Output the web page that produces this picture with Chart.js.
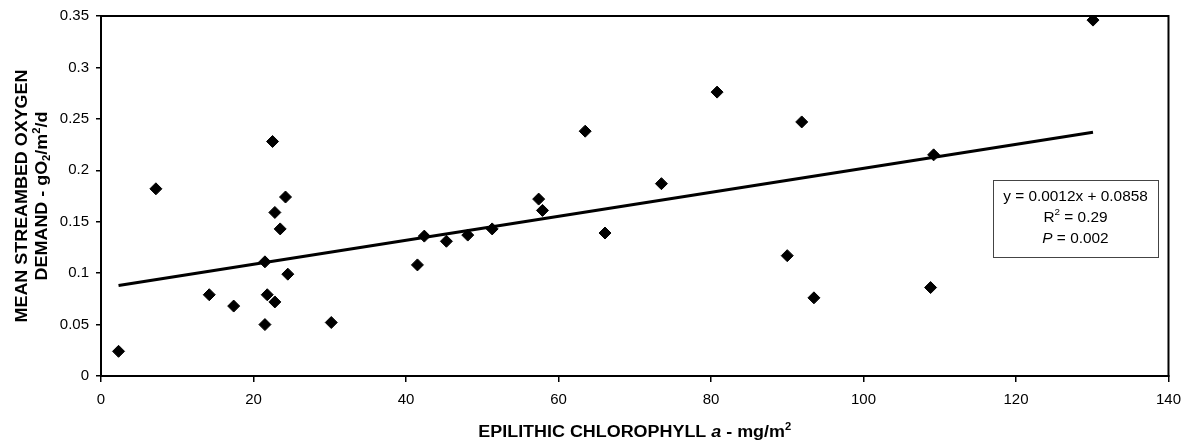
<!DOCTYPE html>
<html>
<head>
<meta charset="utf-8">
<script src="https://cdn.jsdelivr.net/npm/chart.js@4.4.1/dist/chart.umd.min.js"></script>
<style>
  html, body { margin: 0; padding: 0; background: #fff; }
  #wrap { width: 1190px; height: 447px; position: relative; }
</style>
</head>
<body>
<div id="wrap"><canvas id="chart"></canvas></div>
<script>
// Epilithic chlorophyll a (mg/m2) vs mean streambed oxygen demand (gO2/m2/d)
const chlorophyll = [2.3, 7.2, 14.2, 17.4, 21.5, 21.5, 21.8, 22.8, 22.5, 22.8, 23.5, 24.2, 24.5, 30.2,
  41.5, 42.4, 45.3, 48.1, 51.3, 57.4, 57.9, 63.5, 66.1, 73.5, 80.8, 90.0, 91.9, 93.5, 108.8, 109.2, 130.1];
const oxygenDemand = [0.024, 0.182, 0.079, 0.068, 0.050, 0.111, 0.079, 0.072, 0.228, 0.159, 0.143, 0.174, 0.099, 0.052,
  0.108, 0.136, 0.131, 0.137, 0.143, 0.172, 0.161, 0.238, 0.139, 0.187, 0.276, 0.117, 0.247, 0.076, 0.086, 0.215, 0.346];

// fitted line end points
const trendX = [2.3, 130.1];
const trendY = [0.088, 0.237];

const xTicks = [0, 20, 40, 60, 80, 100, 120, 140];
const yTickLabels = ["0", "0.05", "0.1", "0.15", "0.2", "0.25", "0.3", "0.35"];
const fitLines = [
  [{ t: "y = 0.0012x + 0.0858" }],
  [{ t: "R" }, { t: "2", sup: true }, { t: " = 0.29" }],
  [{ t: "P", it: true }, { t: " = 0.002" }],
];

const FONT = "'Liberation Sans', Arial, sans-serif";

function segFont(s, size, bold) {
  const sz = (s.sup || s.sub) ? Math.round(size * 0.62) : size;
  return (s.it ? "italic " : "") + (bold ? "bold " : "") + sz + "px " + FONT;
}

// draw mixed-style text centred on (x, y), stretched horizontally by sx
function drawRich(ctx, segs, x, y, size, bold, sx = 1) {
  let w = 0;
  segs.forEach(s => { ctx.font = segFont(s, size, bold); w += ctx.measureText(s.t).width; });
  ctx.save();
  ctx.translate(x, y);
  ctx.scale(sx, 1);
  let cx = -w / 2;
  ctx.textAlign = "left";
  ctx.textBaseline = "middle";
  segs.forEach(s => {
    ctx.font = segFont(s, size, bold);
    let dy = 0;
    if (s.sup) dy = -size * 0.38;
    if (s.sub) dy = size * 0.28;
    ctx.fillText(s.t, cx, dy);
    cx += ctx.measureText(s.t).width;
  });
  ctx.restore();
}

const decorations = {
  id: "decorations",
  afterDraw(chart) {
    const { ctx, chartArea: a } = chart;
    ctx.save();
    ctx.fillStyle = "#000";

    // plot frame
    ctx.strokeStyle = "#000";
    ctx.lineWidth = 2;
    ctx.strokeRect(a.left, a.top, a.right - a.left, a.bottom - a.top);

    // x title
    drawRich(ctx, [
      { t: "EPILITHIC CHLOROPHYLL " }, { t: "a", it: true }, { t: " - mg/m" }, { t: "2", sup: true }
    ], (a.left + a.right) / 2, 433, 16, true, 1.12);

    // y title, two lines
    const cy = (a.top + a.bottom) / 2;
    ctx.save();
    ctx.translate(23, cy);
    ctx.rotate(-Math.PI / 2);
    drawRich(ctx, [{ t: "MEAN STREAMBED OXYGEN" }], 0, 0, 16, true, 1.12);
    ctx.restore();
    ctx.save();
    ctx.translate(43, cy);
    ctx.rotate(-Math.PI / 2);
    drawRich(ctx, [
      { t: "DEMAND - gO" }, { t: "2", sub: true }, { t: "/m" }, { t: "2", sup: true }, { t: "/d" }
    ], 0, 0, 16, true, 1.12);
    ctx.restore();

    // regression box
    const bx = 993, by = 180, bw = 165, bh = 77;
    ctx.fillStyle = "#fff";
    ctx.fillRect(bx, by, bw, bh);
    ctx.strokeStyle = "#444";
    ctx.lineWidth = 1;
    ctx.strokeRect(bx + 0.5, by + 0.5, bw, bh);
    ctx.fillStyle = "#000";
    fitLines.forEach((ln, i) => drawRich(ctx, ln, bx + bw / 2, 197 + i * 21, 14, false, 1.1));

    ctx.restore();
  },
};

new Chart(document.getElementById("chart"), {
  type: "scatter",
  data: {
    datasets: [
      {
        label: "SOD",
        data: chlorophyll.map((x, i) => ({ x, y: oxygenDemand[i] })),
        pointStyle: "rectRot",
        pointRadius: 6,
        pointBackgroundColor: "#000",
        pointBorderColor: "#000",
        pointBorderWidth: 1,
        order: 1,
      },
      {
        label: "Trend",
        data: trendX.map((x, i) => ({ x, y: trendY[i] })),
        showLine: true,
        borderColor: "#000",
        borderWidth: 3,
        pointRadius: 0,
        order: 2,
      },
    ],
  },
  options: {
    responsive: true,
    maintainAspectRatio: false,
    animation: false,
    layout: { padding: { left: 0, right: 21, top: 13, bottom: 0 } },
    plugins: {
      legend: { display: false },
      tooltip: { enabled: false },
    },
    scales: {
      x: {
        type: "linear",
        min: 0,
        max: 140,
        afterBuildTicks: s => { s.ticks = xTicks.map(v => ({ value: v })); },
        afterFit: s => { s.height = 71; },
        ticks: {
          color: "#000",
          padding: 9,
          maxRotation: 0,
          font: { family: FONT, size: 15 },
        },
        grid: { display: true, drawOnChartArea: false, color: "#000", tickLength: 6, lineWidth: 1.5 },
        border: { color: "#000", width: 2 },
      },
      y: {
        type: "linear",
        min: 0,
        max: 0.35,
        afterBuildTicks: s => { s.ticks = yTickLabels.map(v => ({ value: parseFloat(v) })); },
        afterFit: s => { s.width = 101; },
        ticks: {
          color: "#000",
          padding: 7,
          font: { family: FONT, size: 15 },
          callback: (v, i) => yTickLabels[i],
        },
        grid: { display: true, drawOnChartArea: false, color: "#000", tickLength: 5, lineWidth: 1.5 },
        border: { color: "#000", width: 2 },
      },
    },
  },
  plugins: [decorations],
});
</script>
</body>
</html>
